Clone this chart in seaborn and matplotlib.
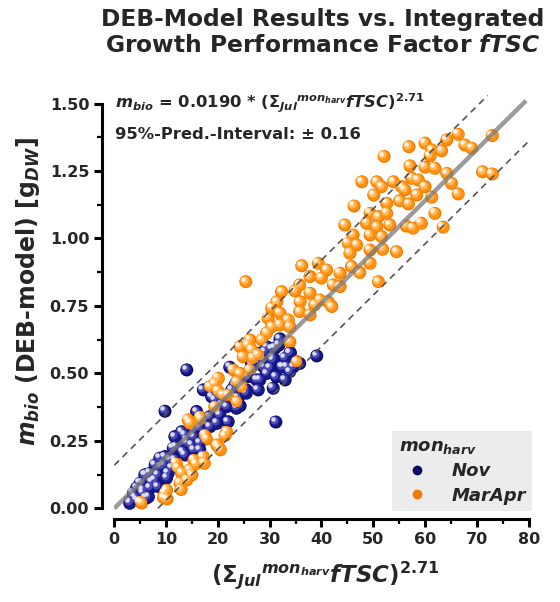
import numpy as np
import pandas as pd
import seaborn as sns
import matplotlib.pyplot as plt
import matplotlib.transforms as mtrans
from matplotlib.ticker import AutoMinorLocator

# values
nov_x = [14.0, 9.8, 31.2, 39.1, 32.0, 34.0, 29.1, 30.4, 31.0, 33.9, 33.0, 30.7, 29.4, 28.8, 26.5,
         24.9, 23.3, 22.0, 25.5, 27.5, 29.4, 32.3, 34.6, 22.3, 26.5, 28.8, 30.7, 33.3, 35.8, 28.1,
         25.9, 24.3, 22.7, 25.5, 27.8, 17.2, 18.8, 19.4, 20.7, 21.7, 23.6, 20.1, 15.9, 20.4, 18.5,
         22.0, 16.5, 18.5, 16.5, 15.3, 13.0, 13.6, 15.3, 11.7, 12.0, 14.0, 14.0, 16.5, 14.9, 11.4,
         13.3, 16.5, 15.3, 13.7, 9.8, 10.8, 11.7, 8.8, 9.5, 7.9, 9.1, 11.1, 6.9, 10.4, 5.9,
         8.5, 6.2, 10.1, 7.9, 7.3, 5.3, 5.0, 8.5, 6.9, 4.3, 5.6, 3.7, 5.6, 6.6, 4.0,
         6.2, 4.3, 3.0, 3.0, 19.8, 24.3, 23.9, 20.4, 28.1, 30.7, 33.0, 35.2, 31.3, 32.6, 33.9,
         30.0, 31.8]
nov_y = [0.513, 0.360, 0.320, 0.565, 0.628, 0.577, 0.581, 0.592, 0.593, 0.575, 0.476, 0.445, 0.599, 0.550, 0.525,
         0.488, 0.457, 0.420, 0.439, 0.476, 0.500, 0.525, 0.525, 0.523, 0.537, 0.525, 0.550, 0.525, 0.537, 0.476,
         0.488, 0.463, 0.439, 0.427, 0.439, 0.439, 0.414, 0.402, 0.383, 0.377, 0.371, 0.358, 0.359, 0.346, 0.340,
         0.321, 0.315, 0.303, 0.297, 0.291, 0.284, 0.272, 0.266, 0.266, 0.229, 0.254, 0.241, 0.241, 0.235, 0.223,
         0.210, 0.217, 0.217, 0.198, 0.192, 0.180, 0.180, 0.186, 0.161, 0.161, 0.155, 0.149, 0.130, 0.130, 0.124,
         0.124, 0.124, 0.112, 0.106, 0.099, 0.093, 0.093, 0.081, 0.075, 0.075, 0.068, 0.056, 0.056, 0.043, 0.044,
         0.038, 0.032, 0.025, 0.019, 0.315, 0.380, 0.408, 0.414, 0.575, 0.556, 0.556, 0.543, 0.488, 0.525, 0.507,
         0.519, 0.605]

mar_x = [66.4, 73.0, 64.2, 60.0, 56.9, 61.3, 67.7, 69.0, 61.0, 63.2, 52.1, 57.1, 60.0, 61.9, 64.2,
         71.1, 73.0, 65.1, 47.8, 50.7, 51.6, 53.9, 55.5, 57.4, 58.7, 60.0, 56.1, 58.4, 61.3, 66.4,
         50.1, 52.6, 55.1, 56.8, 46.3, 49.4, 51.0, 52.6, 61.9, 44.5, 48.7, 50.7, 53.2, 56.4, 57.7,
         59.3, 63.5, 46.1, 49.4, 51.6, 45.2, 46.8, 45.5, 49.4, 51.8, 54.5, 36.2, 39.4, 41.0, 37.8,
         40.0, 43.6, 45.8, 47.4, 49.4, 51.0, 25.4, 32.3, 34.9, 35.8, 37.8, 42.3, 43.6,
         35.9, 41.3, 42.0, 38.7, 31.4, 30.4, 29.7, 32.0, 33.6, 35.8, 32.0, 33.9, 30.4, 29.4, 28.5,
         26.2, 24.3, 25.9, 24.9, 26.8, 23.0, 26.2, 35.2, 20.1, 39.7, 37.8, 26.5, 33.9, 27.8, 24.3,
         19.5, 23.6, 21.0, 18.5, 24.6, 23.6, 19.4,
         21.7, 19.8, 14.6, 16.5, 17.5, 17.2, 15.3, 14.6, 13.0, 14.0, 12.7, 10.1, 9.8, 10.2, 5.0,
         5.3, 9.5, 12.0, 12.9, 15.0, 15.7, 17.4, 12.2, 20.5, 17.8, 21.4, 14.7, 16.7, 14.3, 20.1,
         22.0, 20.0]
mar_y = [1.386, 1.381, 1.365, 1.353, 1.340, 1.328, 1.346, 1.334, 1.306, 1.325, 1.304, 1.269, 1.264, 1.260, 1.241,
         1.247, 1.239, 1.204, 1.210, 1.210, 1.192, 1.210, 1.192, 1.223, 1.217, 1.192, 1.180, 1.161, 1.153, 1.165,
         1.161, 1.130, 1.140, 1.128, 1.120, 1.093, 1.081, 1.093, 1.093, 1.050, 1.056, 1.044, 1.050, 1.046, 1.038,
         1.056, 1.042, 1.013, 1.013, 1.007, 0.982, 0.976, 0.945, 0.957, 0.960, 0.951, 0.899, 0.908, 0.883, 0.859,
         0.853, 0.871, 0.896, 0.874, 0.908, 0.840, 0.840, 0.803, 0.806, 0.828, 0.797, 0.828, 0.822,
         0.766, 0.766, 0.748, 0.754, 0.766, 0.741, 0.704, 0.723, 0.698, 0.729, 0.680, 0.673, 0.673, 0.649, 0.624,
         0.624, 0.599, 0.606, 0.562, 0.556, 0.513, 0.513, 0.544, 0.482, 0.772, 0.717, 0.588, 0.617, 0.568, 0.500,
         0.463, 0.469, 0.420, 0.451, 0.451, 0.395, 0.377,
         0.284, 0.235, 0.315, 0.340, 0.272, 0.192, 0.180, 0.142, 0.130, 0.105, 0.093, 0.068, 0.056, 0.035, 0.025,
         0.020, 0.040, 0.167, 0.070, 0.124, 0.164, 0.167, 0.150, 0.217, 0.257, 0.270, 0.317, 0.330, 0.328, 0.229,
         0.420, 0.435]

groups = ["Nov", "MarApr"]
slope = 0.0190          # fitted coefficient
pred_int = 0.16         # 95% prediction interval
x_ticks = [0, 10, 20, 30, 40, 50, 60, 70, 80]
y_ticks = [0.00, 0.25, 0.50, 0.75, 1.00, 1.25, 1.50]

# rim colour + lighter layers for the sphere look
shades = {"Nov": ["#0b0b62", "#17178e", "#4b4bb2", "#dcdcf2"],
          "MarApr": ["#f07a00", "#ff9010", "#ffb858", "#fff3e0"]}

sns.set_style("ticks")
plt.rcParams["font.family"] = ["DejaVu Sans"]
plt.rcParams["font.weight"] = "bold"
plt.rcParams["mathtext.fontset"] = "custom"
plt.rcParams["mathtext.rm"] = "DejaVu Sans:bold"
plt.rcParams["mathtext.bf"] = "DejaVu Sans:bold"
plt.rcParams["mathtext.it"] = "DejaVu Sans:italic:bold"

df = pd.DataFrame({
    "x": nov_x + mar_x,
    "y": nov_y + mar_y,
    "group": ["Nov"] * len(nov_x) + ["MarApr"] * len(mar_x),
})

fig = plt.figure(figsize=(5.6, 6.02), dpi=100)
ax = fig.add_axes([0.204, 0.151, 0.740, 0.6905])

size = 88
sns.scatterplot(data=df, x="x", y="y", hue="group", hue_order=groups,
                palette={g: shades[g][0] for g in groups}, s=size,
                linewidth=0, ax=ax, zorder=3)

# highlight layers, shifted up-left
layers = [(0.74, 0.45), (0.38, 1.4), (0.12, 2.1)]
for g in groups:
    sub = df[df["group"] == g]
    for i, (scale, off) in enumerate(layers):
        tr = mtrans.offset_copy(ax.transData, fig=fig, x=-off, y=off, units="points")
        ax.scatter(sub["x"], sub["y"], s=size * scale, color=shades[g][i + 1],
                   linewidth=0, transform=tr, zorder=3)

# fit line and prediction interval
xf = np.array([0, 79.5])
ax.plot(xf, slope * xf, color="#7a7a7a", lw=3.2, alpha=0.75, zorder=5,
        solid_capstyle="butt")
xu = np.array([0, (1.53 - pred_int) / slope])
ax.plot(xu, slope * xu + pred_int, color="#555555", lw=1.2, ls=(0, (4, 3)), zorder=5)
xl = np.array([pred_int / slope, 80])
ax.plot(xl, slope * xl - pred_int, color="#555555", lw=1.2, ls=(0, (4, 3)), zorder=5)

ax.set_xlim(0, 80)
ax.set_ylim(-0.01, 1.53)
ax.set_xticks(x_ticks)
ax.set_yticks(y_ticks)
ax.set_yticklabels([f"{v:.2f}" for v in y_ticks])
ax.xaxis.set_minor_locator(AutoMinorLocator(2))
ax.yaxis.set_minor_locator(AutoMinorLocator(2))
ax.tick_params(which="major", width=2.2, length=6, labelsize=11.5, pad=3, color="black")
ax.tick_params(which="minor", width=1.6, length=3.5, color="black")
for lab in ax.get_xticklabels() + ax.get_yticklabels():
    lab.set_fontweight("bold")
for sp in ax.spines.values():
    sp.set_linewidth(2.2)
    sp.set_color("black")
sns.despine(ax=ax, offset={"left": 9, "bottom": 6}, trim=True)
ax.set_xlabel("")
ax.set_ylabel("")

leg = ax.legend(title=r"$mon_{harv}$", loc="lower right", bbox_to_anchor=(1.008, 0.0),
                frameon=True, facecolor="#ececec", edgecolor="none", fancybox=False,
                framealpha=1, prop={"style": "italic", "weight": "bold", "size": 13},
                title_fontsize=13, alignment="left", handletextpad=0.9, borderpad=0.35,
                labelspacing=0.35, markerscale=0.75, borderaxespad=0)

fig.text(0.205, 0.829, r"$m_{bio}$ = 0.0190 * ($\Sigma_{Jul}{}^{mon_{harv}}fTSC)^{2.71}$",
         fontsize=11.8, fontweight="bold", va="center", ha="left")
fig.text(0.205, 0.777, "95%-Pred.-Interval: \u00b1 0.16",
         fontsize=11.8, fontweight="bold", va="center", ha="left")

fig.text(0.576, 0.986, "DEB-Model Results vs. Integrated\nGrowth Performance Factor $fTSC$",
         ha="center", va="top", fontsize=16.8, fontweight="bold", linespacing=1.12)
fig.text(0.58, 0.045, r"($\Sigma_{Jul}{}^{mon_{harv}}fTSC)^{2.71}$",
         ha="center", va="center", fontsize=16.5, fontweight="bold")
fig.text(0.05, 0.515, r"$m_{bio}$ (DEB-model) [g$_{DW}$]", rotation=90,
         ha="center", va="center", fontsize=17, fontweight="bold")

fig.savefig("out.png", dpi=100)
